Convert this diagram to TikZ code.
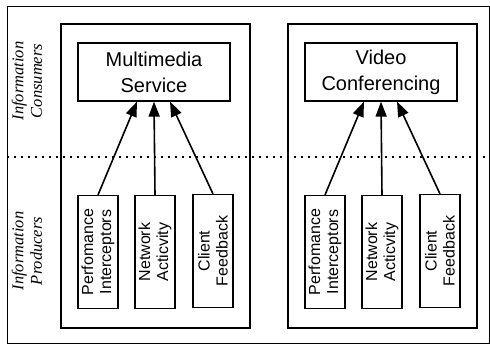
\documentclass[tikz,border=0pt]{standalone}
\usepackage{fontspec}
\setmainfont{Liberation Sans}
\newfontfamily\layerfont{Liberation Serif}
\usetikzlibrary{arrows.meta}
\usetikzlibrary{calc}
\usetikzlibrary{positioning}
\tikzset{
    service/.style={draw, line width=1.2pt, minimum width=152pt, minimum height=58pt,
        inner sep=0pt, align=center, font=\fontsize{20}{26}\selectfont},
    producer/.style={draw, line width=1.2pt, rotate=90, minimum width=113pt, minimum height=40pt,
        inner sep=0pt, align=center, font=\fontsize{16}{18}\selectfont},
    feed/.style={line width=1.6pt, -{Triangle[length=15pt,width=11pt]}},
    layer/.style={rotate=90, align=center, font=\layerfont\itshape\fontsize{16.5}{18.5}\selectfont}
}
\begin{document}
\begin{tikzpicture}[x=1pt, y=-1pt]
    \useasboundingbox (0,0) rectangle (490,346);
    \draw[line width=1pt] (7,6) rectangle (489,343);
    \node[layer] (consumers) at (27,81) {Information\\Consumers};
    \node[layer] (producers) at (27,251) {Information\\Producers};
    \coordinate (split-l) at (7,157);
    \coordinate (split-r) at (490,157);
    \draw[line width=1.3pt, dash pattern=on 2pt off 5pt] (split-l) -- (split-r);
    \foreach \gx/\gname/\gtext in {0/mms/{Multimedia\\Service}, 227/vc/{Video\\Conferencing}} {
        \draw[line width=1.2pt] (61+\gx,24) rectangle (250+\gx,328);
        \node[service] (\gname) at (154+\gx,72) {\gtext};
        \node[producer] (\gname-perf) at (98+\gx,252) {Perfomance\\Interceptors};
        \node[producer] (\gname-net) at (155+\gx,252) {Network\\Acticvity};
        \node[producer] (\gname-client) at (213+\gx,251) {Client\\Feedback};
        \draw[feed] (\gname-perf.east) -- ($(\gname.south)+(-17,0)$);
        \draw[feed] (\gname-net.east) -- (\gname.south);
        \draw[feed] (\gname-client.east) -- ($(\gname.south)+(16,0)$);
    }
\end{tikzpicture}
\end{document}
